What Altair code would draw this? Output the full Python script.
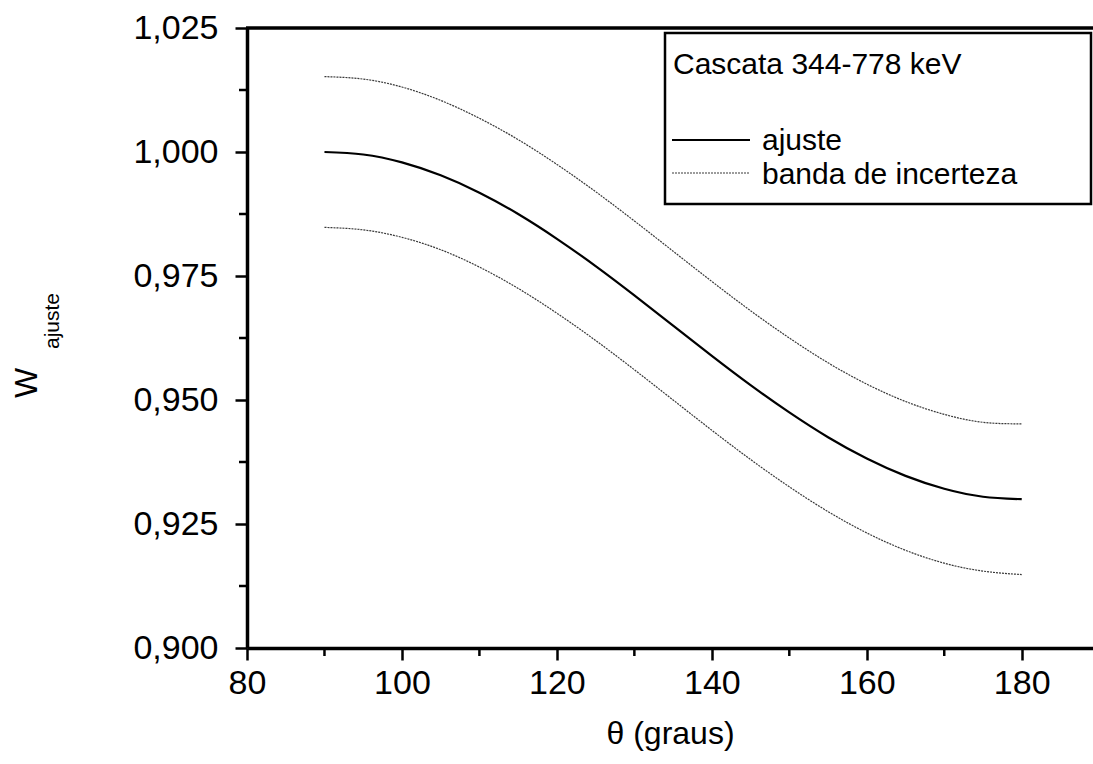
import altair as alt
import pandas as pd

# Angles (graus)
theta = [90, 95, 100, 105, 110, 115, 120, 125, 130, 135, 140, 145, 150, 155, 160, 165, 170, 175, 180]
# Fitted curve (ajuste)
ajuste = [1.0000, 0.9995, 0.9979, 0.9953, 0.9918, 0.9875, 0.9825, 0.9770, 0.9711, 0.9650,
          0.9589, 0.9530, 0.9475, 0.9425, 0.9382, 0.9347, 0.9321, 0.9305, 0.9300]
# Uncertainty band (banda de incerteza)
banda_sup = [1.0152, 1.0147, 1.0131, 1.0104, 1.0068, 1.0025, 0.9975, 0.9920, 0.9861, 0.9800,
             0.9739, 0.9680, 0.9625, 0.9575, 0.9532, 0.9497, 0.9471, 0.9455, 0.9452]
banda_inf = [0.9848, 0.9843, 0.9828, 0.9803, 0.9768, 0.9725, 0.9675, 0.9620, 0.9561, 0.9500,
             0.9439, 0.9380, 0.9325, 0.9275, 0.9232, 0.9197, 0.9171, 0.9155, 0.9148]

x_ticks = [80, 100, 120, 140, 160, 180]
x_minor = [90, 110, 130, 150, 170]
y_ticks = [0.900, 0.925, 0.950, 0.975, 1.000, 1.025]
y_minor = [0.9125, 0.9375, 0.9625, 0.9875, 1.0125]

legend_title = "Cascata 344-778 keV"
legend_labels = ["ajuste", "banda de incerteza"]

W, H = 846, 620
FONT = "Liberation Sans"
BAND_COLOR = "#3a3a3a"

df_fit = pd.DataFrame({"theta": theta, "W": ajuste, "curve": "ajuste"})
df_band = pd.concat([
    pd.DataFrame({"theta": theta, "W": banda_sup, "curve": "superior"}),
    pd.DataFrame({"theta": theta, "W": banda_inf, "curve": "inferior"}),
])

xscale = alt.Scale(domain=[80, 189.2], nice=False, zero=False)
yscale = alt.Scale(domain=[0.9, 1.025], nice=False, zero=False)

xaxis = alt.Axis(values=x_ticks, grid=False, tickSize=12, tickWidth=2.5, tickColor="black",
                 domainWidth=3.5, domainColor="black", labelFont=FONT, labelFontSize=34,
                 labelColor="black", labelPadding=6, title="θ (graus)", titleFont=FONT,
                 titleFontSize=32, titleFontWeight="normal", titleColor="black", titlePadding=18,
                 labelFlush=False)
yaxis = alt.Axis(values=y_ticks, grid=False, tickSize=12, tickWidth=2.5, tickColor="black",
                 domainWidth=3.5, domainColor="black", labelFont=FONT, labelFontSize=34,
                 labelColor="black", labelPadding=17, title=None,
                 labelExpr="replace(format(datum.value, '.3f'), '.', ',')")

band = alt.Chart(df_band).mark_line(color=BAND_COLOR, strokeWidth=1.2, strokeDash=[2, 1],
                                    interpolate="natural").encode(
    x=alt.X("theta:Q", scale=xscale, axis=xaxis),
    y=alt.Y("W:Q", scale=yscale, axis=yaxis),
    detail="curve:N",
)
fit = alt.Chart(df_fit).mark_line(color="black", strokeWidth=2.2, interpolate="natural").encode(
    x=alt.X("theta:Q", scale=xscale),
    y=alt.Y("W:Q", scale=yscale),
)

xmin = alt.Chart(pd.DataFrame({"t": x_minor})).mark_rule(color="black", strokeWidth=2.5).encode(
    x=alt.X("t:Q", scale=xscale), y=alt.value(H), y2=alt.value(H + 8))
ymin = alt.Chart(pd.DataFrame({"v": y_minor})).mark_rule(color="black", strokeWidth=2.5).encode(
    y=alt.Y("v:Q", scale=yscale), x=alt.value(-8), x2=alt.value(0))

one = pd.DataFrame({"a": [0]})
top = alt.Chart(one).mark_rule(color="black", strokeWidth=3.5).encode(
    x=alt.value(-1), x2=alt.value(W), y=alt.value(0))

box = alt.Chart(one).mark_rect(fill="white", stroke="black", strokeWidth=2.5).encode(
    x=alt.value(418), x2=alt.value(844), y=alt.value(5), y2=alt.value(176))
ltitle = alt.Chart(one).mark_text(font=FONT, fontSize=30, align="left", baseline="alphabetic",
                                  color="black").encode(
    x=alt.value(426), y=alt.value(46), text=alt.value(legend_title))
l1 = alt.Chart(one).mark_rule(color="black", strokeWidth=2).encode(
    x=alt.value(425), x2=alt.value(503), y=alt.value(112))
l2 = alt.Chart(one).mark_rule(color=BAND_COLOR, strokeWidth=1.2, strokeDash=[2, 1]).encode(
    x=alt.value(425), x2=alt.value(503), y=alt.value(145))
t1 = alt.Chart(one).mark_text(font=FONT, fontSize=30, align="left", baseline="alphabetic",
                              color="black").encode(
    x=alt.value(515), y=alt.value(122), text=alt.value(legend_labels[0]))
t2 = alt.Chart(one).mark_text(font=FONT, fontSize=30, align="left", baseline="alphabetic",
                              color="black").encode(
    x=alt.value(515), y=alt.value(156), text=alt.value(legend_labels[1]))

wtitle = alt.Chart(one).mark_text(font=FONT, fontSize=32, angle=270, align="center",
                                  baseline="middle", color="black").encode(
    x=alt.value(-220), y=alt.value(355), text=alt.value("W"))
wsub = alt.Chart(one).mark_text(font=FONT, fontSize=21, angle=270, align="center",
                                baseline="middle", color="black").encode(
    x=alt.value(-194), y=alt.value(293), text=alt.value("ajuste"))

chart = alt.layer(band, fit, xmin, ymin, top, box, ltitle, l1, l2, t1, t2, wtitle, wsub).properties(
    width=W, height=H,
    autosize=alt.AutoSizeParams(type="none"),
    padding={"left": 247, "top": 28, "right": 0, "bottom": 116},
).configure_view(stroke=None).configure(background="white")

chart.save("out.html", embed_options={"renderer": "svg", "actions": False})
